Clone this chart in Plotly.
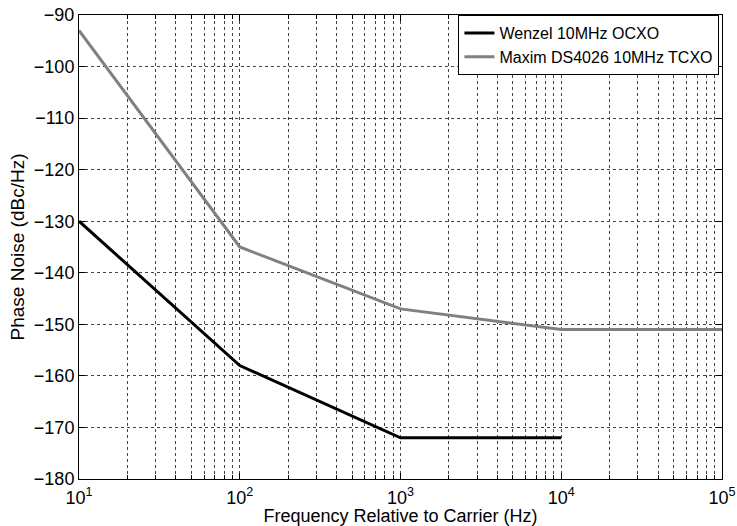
import plotly.graph_objects as go

freq_ocxo = [10, 100, 1000, 10000]
pn_ocxo = [-130, -158, -172, -172]
freq_tcxo = [10, 100, 1000, 10000, 100000]
pn_tcxo = [-93, -135, -147, -151, -151]

x_ticks = [10, 100, 1000, 10000, 100000]
x_ticktext = ["10<sup>1</sup>", "10<sup>2</sup>", "10<sup>3</sup>", "10<sup>4</sup>", "10<sup>5</sup>"]
y_ticks = list(range(-180, -89, 10))
y_ticktext = ["\u2212" + str(abs(v)) for v in y_ticks]
minor_x = [m * 10**e for e in range(1, 5) for m in range(2, 10)]

font = "Liberation Sans"

fig = go.Figure()
fig.add_trace(go.Scatter(x=freq_ocxo, y=pn_ocxo, mode="lines", name="Wenzel 10MHz OCXO",
                         line=dict(color="black", width=3)))
fig.add_trace(go.Scatter(x=freq_tcxo, y=pn_tcxo, mode="lines", name="Maxim DS4026 10MHz TCXO",
                         line=dict(color="#808080", width=3)))

grid = dict(showgrid=True, gridcolor="#444", gridwidth=1, griddash="dot")
fig.update_xaxes(type="log", range=[1, 5], tickvals=x_ticks, ticktext=x_ticktext,
                 ticks="inside", ticklen=6, tickcolor="black", showline=True, linecolor="black",
                 linewidth=1, mirror="ticks", zeroline=False, automargin=False,
                 ticklabelstandoff=2,
                 tickfont=dict(size=18, color="black", family=font),
                 title=dict(text="Frequency Relative to Carrier (Hz)", standoff=3,
                            font=dict(size=18, color="black", family=font)),
                 minor=dict(tickvals=minor_x, ticks="inside", ticklen=4, tickcolor="black",
                            showgrid=True, gridcolor="#444", gridwidth=1, griddash="dot"),
                 **grid)
fig.update_yaxes(range=[-180, -90], tickvals=y_ticks, ticktext=y_ticktext,
                 ticks="inside", ticklen=6, tickcolor="black", showline=True, linecolor="black",
                 linewidth=1, mirror="ticks", zeroline=False, automargin=False,
                 tickfont=dict(size=18, color="black", family=font),
                 title=dict(text="Phase Noise (dBc/Hz)", standoff=4,
                            font=dict(size=19, color="black", family=font)),
                 **grid)
fig.update_layout(width=737, height=526, plot_bgcolor="white", paper_bgcolor="white",
                  margin=dict(l=79, r=15, t=15, b=47),
                  legend=dict(x=0.996, y=1, xanchor="right", yanchor="top", bgcolor="white",
                              bordercolor="black", borderwidth=1,
                              font=dict(size=16, color="black", family=font),
                              tracegroupgap=0, itemwidth=30),
                  showlegend=True)
fig.write_html("out.html")
